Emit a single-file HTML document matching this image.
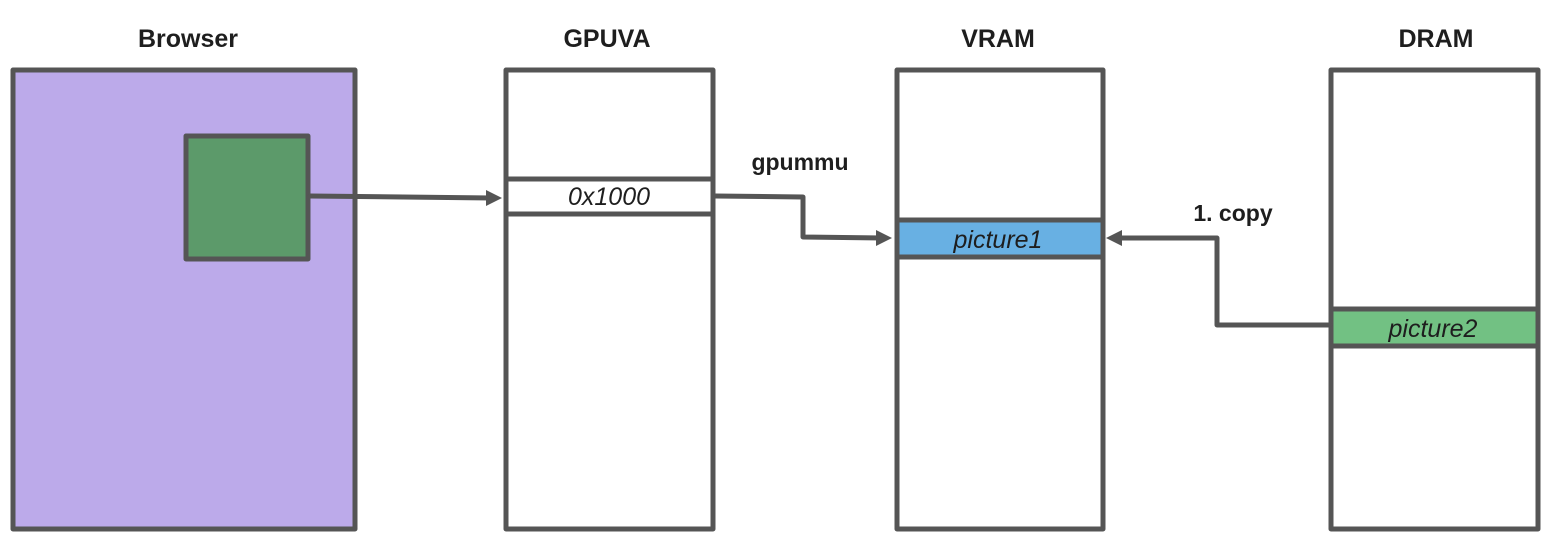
<!DOCTYPE html>
<html><head><style>
body{margin:0;background:#fff;width:1556px;height:539px;overflow:hidden}
text{font-family:"Liberation Sans",sans-serif;fill:#1e1e1e}
</style></head><body>
<svg width="1556" height="539" viewBox="0 0 1556 539">
<g stroke="#555" stroke-width="5" stroke-linejoin="round" stroke-linecap="round">
<rect x="13" y="70" width="342" height="459" fill="#bcaaea"/>
<rect x="186" y="136" width="122" height="123" fill="#5c9a6a"/>
<rect x="506" y="70" width="207" height="459" fill="#fff"/>
<rect x="506" y="179" width="207" height="35" fill="#fff"/>
<rect x="897" y="70" width="206" height="459" fill="#fff"/>
<rect x="897" y="220" width="206" height="37" fill="#68b0e3"/>
<rect x="1331" y="70" width="207" height="459" fill="#fff"/>
<rect x="1331" y="309" width="207" height="37" fill="#72c183"/>
<g fill="none">
<path d="M310 196 L492 198"/>
<path d="M715 196 L803 197 L803 237 L883 238"/>
<path d="M1330 325 L1217 325 L1217 238 L1115 238"/>
</g>
</g>
<g fill="#555">
<path d="M502 198 L486 190 L486 206Z"/>
<path d="M892 238 L876 230 L876 246Z"/>
<path d="M1106 238 L1122 230 L1122 246Z"/>
</g>
<g font-weight="bold" font-size="25" text-anchor="middle">
<text x="188" y="47">Browser</text>
<text x="607" y="47">GPUVA</text>
<text x="998" y="47">VRAM</text>
<text x="1436" y="47">DRAM</text>
<text x="800" y="170" font-size="23">gpummu</text>
<text x="1233" y="221" font-size="23">1. copy</text>
</g>
<g font-style="italic" font-size="25" text-anchor="middle">
<text x="609" y="205">0x1000</text>
<text x="998" y="248">picture1</text>
<text x="1433" y="337">picture2</text>
</g>
</svg>
</body></html>
